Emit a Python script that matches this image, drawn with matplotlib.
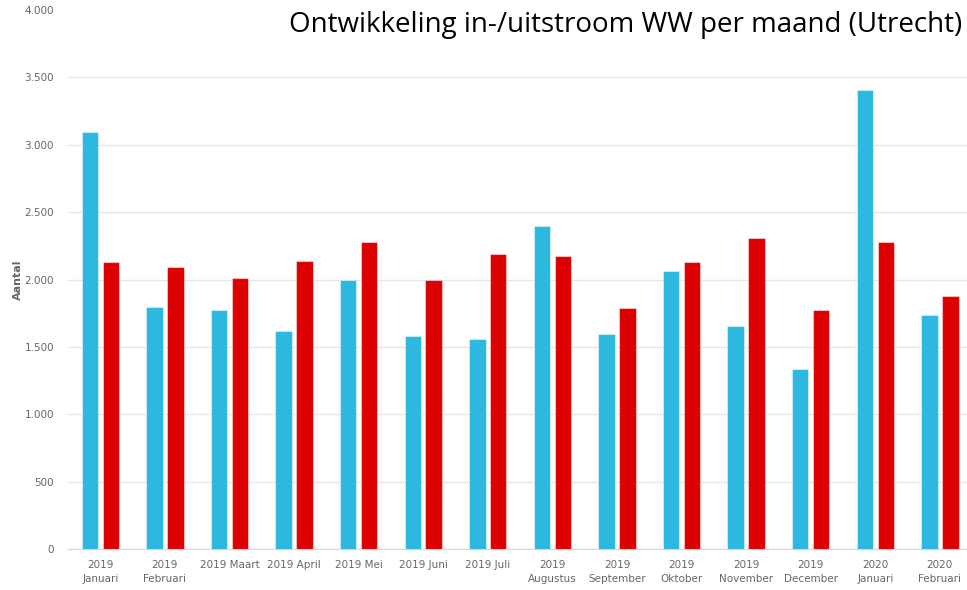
import matplotlib.pyplot as plt
import numpy as np

maanden = ["2019\nJanuari", "2019\nFebruari", "2019 Maart", "2019 April", "2019 Mei",
           "2019 Juni", "2019 Juli", "2019\nAugustus", "2019\nSeptember", "2019\nOktober",
           "2019\nNovember", "2019\nDecember", "2020\nJanuari", "2020\nFebruari"]
instroom = [3095, 1795, 1770, 1615, 2000, 1580, 1555, 2400, 1595, 2060, 1658, 1336, 3405, 1738]
uitstroom = [2130, 2090, 2010, 2138, 2282, 1995, 2188, 2178, 1787, 2131, 2307, 1770, 2282, 1874]

fig = plt.figure(figsize=(9.67, 5.90), dpi=100)
ax = fig.add_axes([68 / 967, 41 / 590, 1 - 68 / 967, 539 / 590])

x = np.arange(len(maanden))
w = 0.255
ax.bar(x - 0.162, instroom, w, color="#2db8df", edgecolor=(1, 1, 1, 0.45), linewidth=0.8, zorder=3)
ax.bar(x + 0.162, uitstroom, w, color="#dd0000", edgecolor=(1, 1, 1, 0.45), linewidth=0.8, zorder=3)

ax.set_xlim(-0.5, 13.42)
ax.set_ylim(0, 4000)
ax.set_yticks(range(0, 4001, 500))
ax.set_yticklabels([f"{v:,}".replace(",", ".") for v in range(0, 4001, 500)])
ax.set_xticks(x)
ax.set_xticklabels(maanden, fontsize=7.5, color="#666666", linespacing=1.5)
ax.tick_params(axis="y", labelsize=7.5, labelcolor="#666666", length=0, pad=10)
ax.tick_params(axis="x", length=0, pad=8)

ax.grid(axis="y", color="#e6e6e6", linewidth=1, zorder=0)
ax.yaxis.get_gridlines()[-1].set_visible(False)
for s in ["top", "right", "left"]:
    ax.spines[s].set_visible(False)
ax.spines["bottom"].set_color("#ccd6eb")
ax.set_ylabel("Aantal", fontsize=8, color="#666666", fontweight="bold")
ax.yaxis.set_label_coords(-0.05, 0.5)

fig.text(962 / 967, 1 - 25 / 590, "Ontwikkeling in-/uitstroom WW per maand (Utrecht)",
         ha="right", va="center", fontsize=20, family="Open Sans")

fig.savefig("out.png", dpi=100)
